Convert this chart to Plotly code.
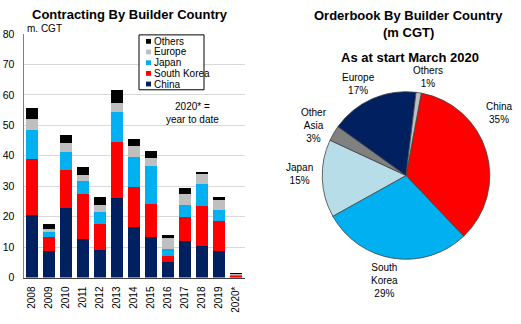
import plotly.graph_objects as go

# ---- Contracting by builder country (m. CGT) ----
years = ["2008", "2009", "2010", "2011", "2012", "2013", "2014",
         "2015", "2016", "2017", "2018", "2019", "2020*"]
china = [20.7, 8.6, 22.8, 12.6, 8.9, 26.0, 16.5, 13.4, 5.1, 12.1, 10.3, 8.7, 0.5]
south_korea = [18.1, 4.8, 12.6, 14.7, 8.8, 18.6, 13.3, 10.8, 2.0, 7.8, 13.3, 9.9, 0.2]
japan = [9.7, 1.9, 5.8, 4.3, 3.9, 9.8, 9.9, 12.3, 2.3, 3.8, 7.2, 3.6, 0.2]
europe = [3.7, 0.5, 2.9, 2.0, 2.3, 2.9, 3.5, 2.7, 3.5, 3.8, 3.3, 3.4, 0.3]
others = [3.4, 1.7, 2.7, 2.7, 2.5, 4.3, 2.3, 2.3, 1.0, 2.0, 0.7, 0.8, 0.1]

series_names = ["China", "South Korea", "Japan", "Europe", "Others"]
series_values = [china, south_korea, japan, europe, others]
series_colors = ["#002060", "#FF0000", "#00B0F0", "#BFBFBF", "#000000"]

# ---- Orderbook by builder country, start March 2020 (%) ----
pie_labels = ["China", "South Korea", "Japan", "Other Asia", "Europe", "Others"]
pie_values = [35, 29, 15, 3, 17, 1]
pie_colors = ["#FF0000", "#00B0F0", "#B7DEE8", "#808080", "#002060", "#BFBFBF"]
pie_label_lines = ["China", "South<br>Korea", "Japan", "Other<br>Asia", "Europe", "Others"]

W, H = 521, 324
FONT = "Liberation Sans, Arial, sans-serif"


def px(x):
    return x / W


def py(y):
    return 1 - y / H


def note(text, x, y, size=10, anchor="center"):
    return dict(text=text, x=px(x), y=py(y), xref="paper", yref="paper",
                xanchor=anchor, yanchor="middle", showarrow=False,
                font=dict(size=size, family=FONT, color="#000"))


fig = go.Figure()

for name, vals, col in zip(series_names, series_values, series_colors):
    fig.add_trace(go.Bar(x=years, y=vals, name=name, marker_color=col,
                         marker_line_width=0, showlegend=False,
                         xaxis="x", yaxis="y"))

fig.add_trace(go.Pie(labels=pie_labels, values=pie_values, sort=False,
                     direction="clockwise", rotation=10.5,
                     marker=dict(colors=pie_colors,
                                 line=dict(color="#404040", width=0.8)),
                     textinfo="none", hoverinfo="label+percent",
                     showlegend=False,
                     domain=dict(x=[px(319), px(493)], y=[py(263), py(89)])))

annotations = []
shapes = []

# titles
annotations.append(note("<b>Contracting By Builder Country</b>", 130, 9, size=13))
annotations.append(note("<b>Orderbook By Builder Country</b>", 408, 10, size=13))
annotations.append(note("<b>(m CGT)</b>", 408, 27, size=13))
annotations.append(note("<b>As at start March 2020</b>", 410, 53, size=13))

# unit label and note
annotations.append(note("m. CGT", 25, 23, anchor="left"))
annotations.append(note("2020* =<br>year to date", 192, 111))

# legend box (top entry = last stacked series)
shapes.append(dict(type="rect", xref="paper", yref="paper",
                   x0=px(139), x1=px(204), y0=py(87), y1=py(30),
                   line=dict(color="#000", width=1), fillcolor="white"))
leg_y = [36.7, 47.7, 58.9, 70.0, 81.0]
for i, (name, col) in enumerate(zip(series_names[::-1], series_colors[::-1])):
    yc = leg_y[i]
    shapes.append(dict(type="rect", xref="paper", yref="paper",
                       x0=px(146), x1=px(151), y0=py(yc + 2.5), y1=py(yc - 2.5),
                       line=dict(width=0), fillcolor=col))
    annotations.append(note(name, 152, yc, anchor="left"))

# pie labels
label_pos = [(499, 111), (384, 285), (299, 174), (314, 124), (358, 81), (428, 74)]
total = sum(pie_values)
for lines, val, (lx, ly) in zip(pie_label_lines, pie_values, label_pos):
    pct = round(100 * val / total)
    annotations.append(note(f"{lines}<br>{pct}%", lx, ly))

fig.update_layout(
    width=W, height=H,
    margin=dict(l=0, r=0, t=0, b=0),
    paper_bgcolor="white", plot_bgcolor="white",
    barmode="stack", bargap=0.26,
    font=dict(family=FONT, size=10, color="#000"),
    xaxis=dict(domain=[px(23.5), px(244.5)], anchor="y",
               tickangle=-90, tickfont=dict(size=10, family=FONT),
               showline=True, linecolor="#404040", linewidth=1,
               showgrid=False, ticks="", ticklabelstandoff=4),
    yaxis=dict(domain=[py(282), py(29)], anchor="x", range=[0, 80], dtick=10,
               tickfont=dict(size=10.5, family=FONT),
               showline=True, linecolor="#808080", linewidth=1,
               showgrid=True, gridcolor="#D9D9D9", gridwidth=1,
               zeroline=False, ticks="", ticklabelstandoff=6),
    annotations=annotations,
    shapes=shapes,
)

fig.write_html("out.html")
